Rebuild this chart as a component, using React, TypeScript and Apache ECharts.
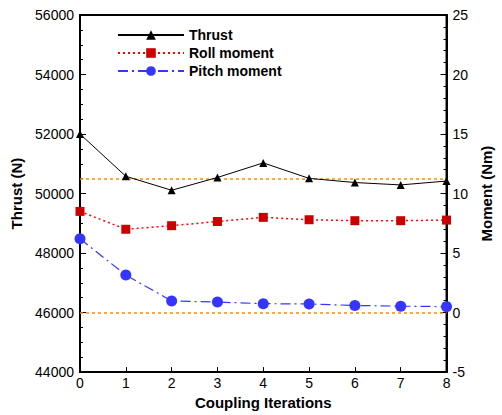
import React, { useEffect, useRef } from "react";
import * as echarts from "echarts";

const iterations = [0, 1, 2, 3, 4, 5, 6, 7, 8];
const thrust = [52000, 50580, 50110, 50540, 51030, 50510, 50370, 50290, 50420];
const rollMoment = [8.5, 7.0, 7.3, 7.65, 8.0, 7.8, 7.72, 7.72, 7.77];
const pitchMoment = [6.2, 3.15, 0.98, 0.88, 0.75, 0.72, 0.6, 0.54, 0.5];
const thrustRefLines = [50500, 46000];

const FONT = "Liberation Sans, Arial, sans-serif";

export default function App() {
  const ref = useRef<HTMLDivElement>(null);
  useEffect(() => {
    if (!ref.current) return;
    const chart = echarts.init(ref.current, undefined, { renderer: "svg" });
    const axisCommon = {
      axisLine: { show: true, onZero: false, lineStyle: { color: "#000", width: 2 } },
      axisTick: { show: true, inside: true, length: 6, lineStyle: { color: "#000", width: 1 } },
      minorTick: { show: true, length: 3, lineStyle: { color: "#000", width: 1 } },
      splitLine: { show: false },
      axisLabel: { color: "#000", fontSize: 14, fontFamily: FONT, margin: 6, formatter: (v: number) => String(v) },
      nameTextStyle: { color: "#000", fontSize: 15, fontWeight: "bold", fontFamily: FONT },
    };
    chart.setOption({
      animation: false,
      backgroundColor: "#fff",
      textStyle: { fontFamily: FONT },
      grid: { left: 80, right: 50, top: 15, bottom: 41, show: true, borderColor: "#000", borderWidth: 2, containLabel: false },
      legend: {
        orient: "vertical",
        left: 112,
        top: 23,
        itemWidth: 66,
        itemHeight: 12,
        itemGap: 4,
        textStyle: { color: "#000", fontSize: 14, fontWeight: "bold", fontFamily: FONT },
        data: ["Thrust", "Roll moment", "Pitch moment"],
      },
      xAxis: {
        type: "value",
        min: 0,
        max: 8,
        interval: 1,
        name: "Coupling Iterations",
        nameLocation: "middle",
        nameGap: 22,
        ...axisCommon,
        axisTick: { show: true, inside: true, length: 5, lineStyle: { color: "#000", width: 1 } },
        minorTick: { show: false },
        axisLabel: { color: "#000", fontSize: 14, fontFamily: FONT, margin: 4 },
      },
      yAxis: [
        {
          type: "value",
          min: 44000,
          max: 56000,
          interval: 2000,
          name: "Thrust (N)",
          nameLocation: "middle",
          nameGap: 51,
          ...axisCommon,
          minorTick: { show: true, splitNumber: 4, length: 3, lineStyle: { color: "#000", width: 1 } },
        },
        {
          type: "value",
          min: -5,
          max: 25,
          interval: 5,
          name: "Moment (Nm)",
          nameLocation: "middle",
          nameGap: 30,
          nameRotate: 90,
          position: "right",
          ...axisCommon,
          minorTick: { show: true, splitNumber: 5, length: 3, lineStyle: { color: "#000", width: 1 } },
        },
      ],
      series: [
        {
          name: "Thrust",
          type: "line",
          yAxisIndex: 0,
          data: iterations.map((x, i) => [x, thrust[i]]),
          symbol: "triangle",
          symbolSize: 8,
          itemStyle: { color: "#000" },
          lineStyle: { color: "#000", width: 1 },
          z: 5,
          markLine: {
            silent: true,
            symbol: "none",
            label: { show: false },
            lineStyle: { color: "#FF8C00", type: [3, 3], width: 1.5 },
            data: thrustRefLines.map((v) => ({ yAxis: v })),
            z: 2,
          },
        },
        {
          name: "Roll moment",
          type: "line",
          yAxisIndex: 1,
          data: iterations.map((x, i) => [x, rollMoment[i]]),
          symbol: "rect",
          symbolSize: 9,
          itemStyle: { color: "#CC0000" },
          lineStyle: { color: "#FF0000", width: 1.5, type: [2, 3] },
          z: 4,
        },
        {
          name: "Pitch moment",
          type: "line",
          yAxisIndex: 1,
          data: iterations.map((x, i) => [x, pitchMoment[i]]),
          symbol: "circle",
          symbolSize: 11,
          itemStyle: { color: "#3535FF" },
          lineStyle: { color: "#3535FF", width: 1.2, type: [10, 4, 2, 4] },
          z: 3,
        },
      ],
    });
    return () => chart.dispose();
  }, []);
  return <div ref={ref} style={{ position: "absolute", left: 0, top: 0, width: 502, height: 415 }} />;
}
